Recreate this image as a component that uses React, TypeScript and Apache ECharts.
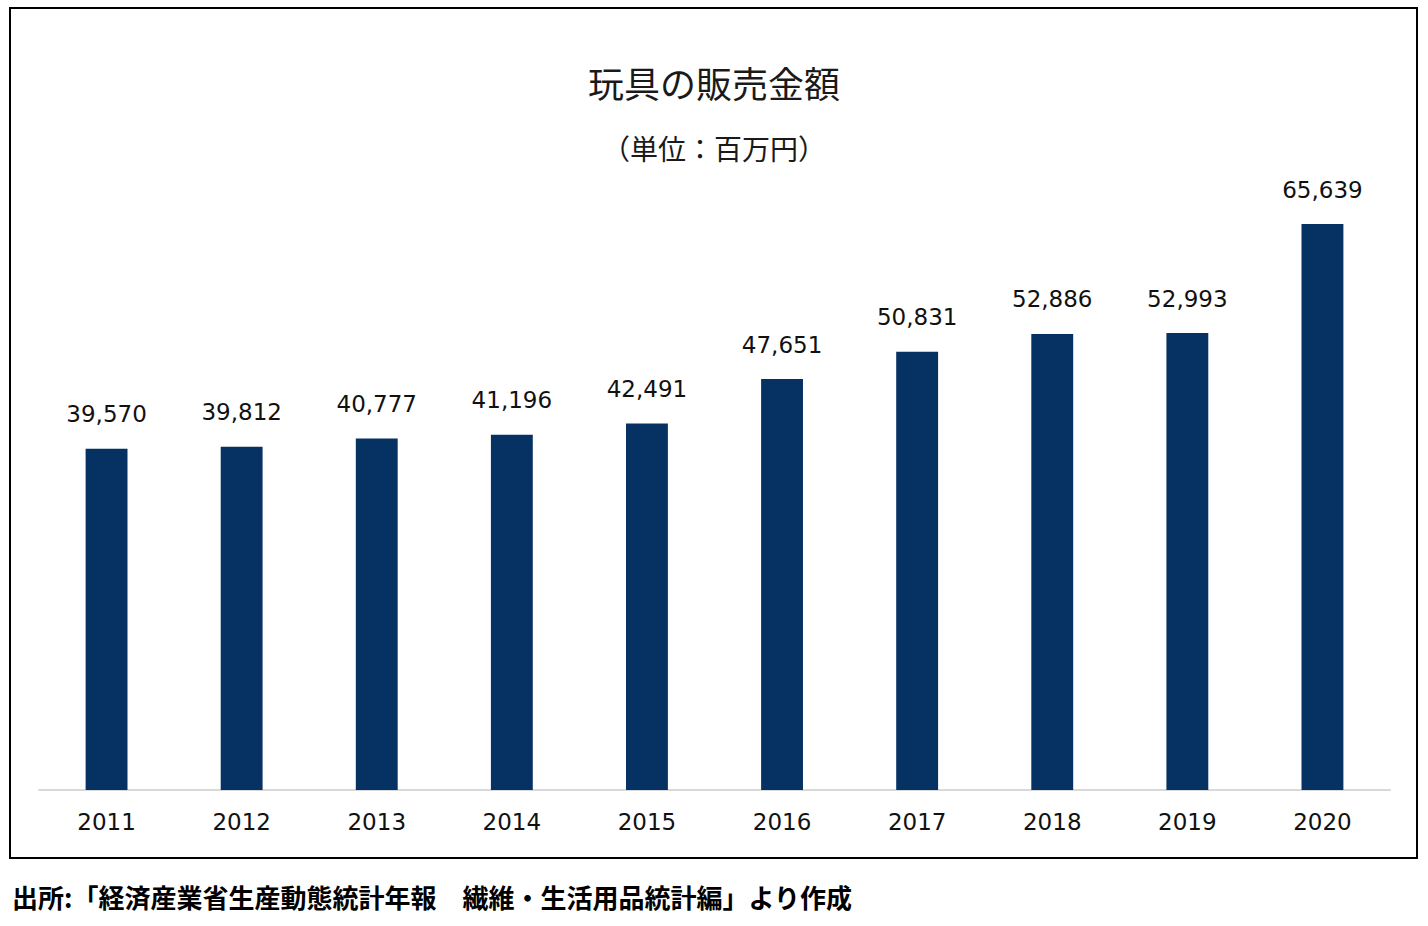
import React, { useEffect, useRef } from "react";
import * as echarts from "echarts";

const years = ["2011", "2012", "2013", "2014", "2015", "2016", "2017", "2018", "2019", "2020"];
const sales = [39570, 39812, 40777, 41196, 42491, 47651, 50831, 52886, 52993, 65639];
const titleText = "玩具の販売金額";
const unitText = "（単位：百万円）";
const sourceText = "出所:「経済産業省生産動態統計年報　繊維・生活用品統計編」より作成";

export default function App() {
  const ref = useRef<HTMLDivElement>(null);
  useEffect(() => {
    if (!ref.current) return;
    const chart = echarts.init(ref.current, null, { renderer: "svg" });
    const cjk = "'Noto Sans CJK JP', 'Noto Sans', sans-serif";
    const num = "'DejaVu Sans', Verdana, sans-serif";
    chart.setOption({
      animation: false,
      backgroundColor: "#ffffff",
      title: [
        {
          text: titleText,
          left: "center",
          top: 59,
          textStyle: { fontFamily: cjk, fontSize: 36, fontWeight: "normal", color: "#1a1a1a" },
        },
        {
          text: unitText,
          left: "center",
          top: 129,
          textStyle: { fontFamily: cjk, fontSize: 28, fontWeight: "normal", color: "#1a1a1a" },
        },
        {
          text: sourceText,
          left: 7,
          top: 878,
          textStyle: { fontFamily: cjk, fontSize: 26, fontWeight: "bold", color: "#000000" },
        },
      ],
      graphic: [
        {
          type: "rect",
          shape: { x: 10, y: 8, width: 1407, height: 850 },
          style: { fill: "none", stroke: "#000000", lineWidth: 2 },
          z: 100,
        },
      ],
      grid: { left: 39, right: 38, top: 186.4, bottom: 136, containLabel: false },
      xAxis: {
        type: "category",
        data: years,
        axisLine: { show: true, lineStyle: { color: "#d9d9d9", width: 2 } },
        axisTick: { show: false },
        axisLabel: { margin: 20, fontFamily: num, fontSize: 23, color: "#111111" },
      },
      yAxis: {
        type: "value",
        min: 0,
        max: 70000,
        show: false,
        splitLine: { show: false },
      },
      series: [
        {
          type: "bar",
          data: sales,
          barWidth: "31%",
          itemStyle: { color: "#063263" },
          label: {
            show: true,
            position: "top",
            distance: 23,
            fontFamily: num,
            fontSize: 23,
            color: "#111111",
            formatter: (p: any) => Number(p.value).toLocaleString("en-US"),
          },
        },
      ],
    });
    return () => chart.dispose();
  }, []);
  return (
    <div
      ref={ref}
      style={{ position: "fixed", left: 0, top: 0, width: 1428, height: 926 }}
    />
  );
}
